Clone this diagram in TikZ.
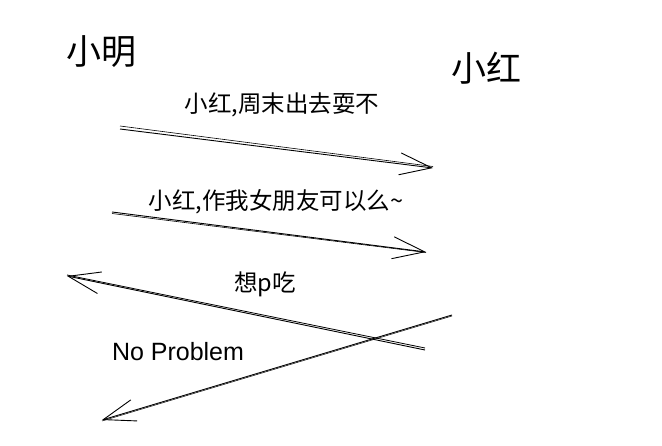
\documentclass[tikz,border=0pt]{standalone}
\usepackage{fontspec}
\newfontfamily\cjk{Noto Sans CJK SC}
\newfontfamily\latn{Liberation Sans}
\usetikzlibrary{arrows.meta}
\tikzset{
  big/.style={font=\cjk\fontsize{35}{40}\selectfont, inner sep=0pt},
  msg/.style={font=\cjk\fontsize{23.5}{27}\selectfont, inner sep=0pt},
  sketch/.style={line width=0.9pt, -{Straight Barb[length=32pt,width=22pt,line width=0.9pt]}},
}
\begin{document}
\begin{tikzpicture}[x=1pt,y=-1pt]
  \useasboundingbox (0,0) rectangle (662,446);
  % actors
  \node[big] (ming) at (101,52) {小明};
  \node[big] (hong) at (486,68) {小红};
  % messages
  \node[msg] (m1) at (282,105) {小红,周末出去耍不};
  \node[msg] (m2) at (276,202) {小红,作我女朋友可以么\textasciitilde};
  \node[msg] (m3) at (265,284) {想p吃};
  \node[msg, font=\latn\fontsize{25}{29}\selectfont] (m4) at (178,352) {No Problem};
  % end points
  \coordinate (a1s) at (120,129);
  \coordinate (a1e) at (433,168);
  \coordinate (a2s) at (112,212);
  \coordinate (a2e) at (426,252);
  \coordinate (a3s) at (425,350);
  \coordinate (a3e) at (67,276);
  \coordinate (a4s) at (452,315);
  \coordinate (a4e) at (102,420);
  % arrows, drawn twice for the sketch look
  \draw[sketch] (a1s) -- (a1e);
  \draw[line width=0.6pt] ([yshift=3pt]a1s) -- ([yshift=1.5pt]a1e);
  \draw[sketch] (a2s) -- (a2e);
  \draw[line width=0.6pt] ([yshift=-1.5pt]a2s) -- ([yshift=-0.5pt]a2e);
  \draw[sketch] (a3s) -- (a3e);
  \draw[line width=0.8pt] ([yshift=2pt]a3s) -- ([yshift=1pt]a3e);
  \draw[sketch] (a4s) -- (a4e);
  \draw[line width=0.5pt] ([yshift=-1pt]a4s) -- ([yshift=-1pt]a4e);
\end{tikzpicture}
\end{document}
